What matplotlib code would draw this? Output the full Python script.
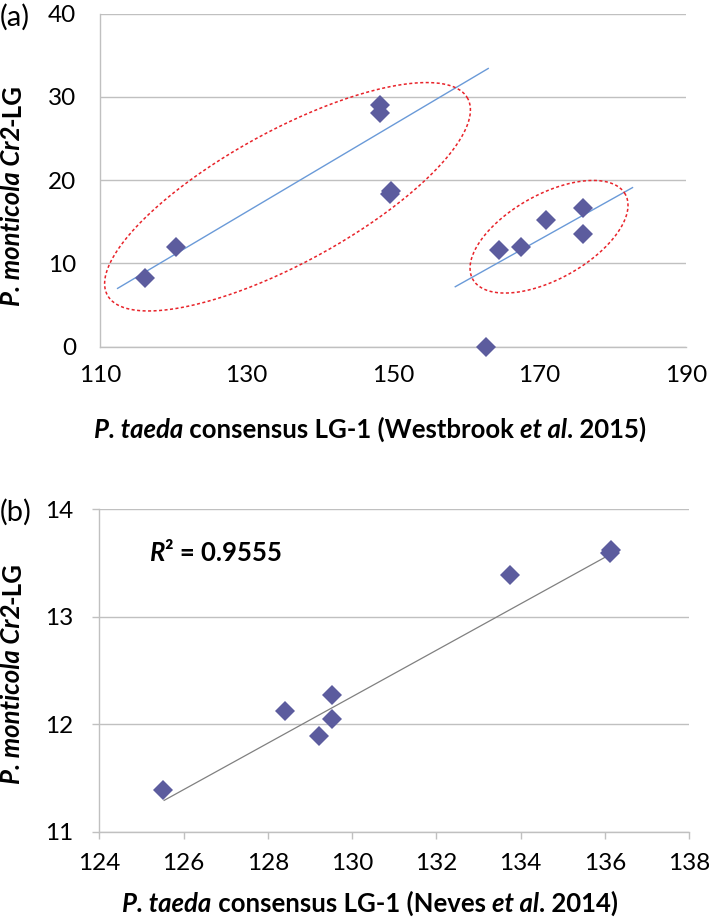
import numpy as np
import matplotlib
matplotlib.use("Agg")
import matplotlib.pyplot as plt

plt.rcParams['font.family'] = ['Lato', 'DejaVu Sans']

W, H = 709, 922

# panel (a) data
a_x = [116.2, 120.4, 148.2, 148.2, 149.6, 149.7, 162.7, 164.5, 167.5, 170.9, 175.9, 175.9]
a_y = [8.2, 12.0, 29.0, 28.0, 18.3, 18.7, 0.0, 11.55, 11.96, 15.25, 16.67, 13.56]
a_xticks = [110, 130, 150, 170, 190]
a_yticks = [0, 10, 20, 30, 40]
# trend lines as drawn in the picture (start, end)
trend_a1_x = [112.4, 163.0]
trend_a1_y = [7.0, 33.4]
trend_a2_x = [158.5, 182.7]
trend_a2_y = [7.2, 19.1]
# dashed ellipses: centre, semi-axis vectors (data units)
ell_centres = [(135.6, 18.0), (171.3, 13.2)]
ell_axis1 = [(24.6, 11.8), (10.42, 5.09)]
ell_axis2 = [(-4.29, 6.98), (-2.78, 4.45)]

# panel (b) data
b_x = [125.52, 128.40, 129.22, 129.53, 129.53, 133.75, 136.13, 136.16]
b_y = [11.39, 12.12, 11.89, 12.27, 12.05, 13.39, 13.59, 13.62]
b_xticks = [124, 126, 128, 130, 132, 134, 136, 138]
b_yticks = [11, 12, 13, 14]
trend_b_x = [125.54, 136.13]
trend_b_y = [11.29, 13.58]
r2_label = "0.9555"

xlabel_a = [("P. taeda", "bi"), (" consensus LG-1 (Westbrook ", "b"), ("et al", "bi"), (". 2015)", "b")]
xlabel_b = [("P. taeda", "bi"), (" consensus LG-1 (Neves ", "b"), ("et al", "bi"), (". 2014)", "b")]
ylabel = [("P. monticola Cr2", "bi"), ("-LG", "b")]

marker_col = '#5c5c9e'
grid_col = '#c0c0c0'
TICK_FS = 17.5
LABEL_FS = 18.5

fig = plt.figure(figsize=(W / 100, H / 100), dpi=100)
renderer = fig.canvas.get_renderer()


def props(style, size):
    return dict(fontsize=size, fontweight='bold' if 'b' in style else 'normal',
                fontstyle='italic' if 'i' in style else 'normal')


def width_of(s, style, size):
    t1 = fig.text(0, 0, '|' + s + '|', **props(style, size))
    t2 = fig.text(0, 0, '||', **props(style, size))
    w = t1.get_window_extent(renderer).width - t2.get_window_extent(renderer).width
    t1.remove()
    t2.remove()
    return w


def rich_text(x, y, parts, size, rotation=0, ha='center'):
    # x, y in image pixels (y from top); x is the centre (or left end) along the text
    ws = [width_of(s, st, size) for s, st in parts]
    total = sum(ws)
    if rotation == 0:
        pos = x - total / 2 if ha == 'center' else x
        for (s, st), w in zip(parts, ws):
            fig.text(pos / W, 1 - y / H, s, ha='left', va='baseline', **props(st, size))
            pos += w
    else:
        pos = (H - y) - total / 2
        for (s, st), w in zip(parts, ws):
            fig.text(x / W, pos / H, s, ha='left', va='baseline', rotation=90,
                     rotation_mode='anchor', **props(st, size))
            pos += w


def style_axes(ax):
    for side in ['top', 'right']:
        ax.spines[side].set_visible(False)
    for side in ['left', 'bottom']:
        ax.spines[side].set_color(grid_col)
        ax.spines[side].set_linewidth(1.0)
    ax.yaxis.grid(True, color=grid_col, linewidth=1.0)
    ax.set_axisbelow(True)


# ---- panel (a)
ax1 = fig.add_axes([100 / W, 1 - 346.7 / H, 586 / W, 333.2 / H])
style_axes(ax1)
ax1.set_xlim(110, 190)
ax1.set_ylim(0, 40)
ax1.set_xticks(a_xticks)
ax1.set_yticks(a_yticks)
ax1.tick_params(axis='both', length=0, labelsize=TICK_FS)
ax1.tick_params(axis='y', pad=17)
ax1.tick_params(axis='x', pad=13.5)
ax1.plot(trend_a1_x, trend_a1_y, color='#6a9ad8', lw=1.0, zorder=2)
ax1.plot(trend_a2_x, trend_a2_y, color='#6a9ad8', lw=1.0, zorder=2)
t = np.linspace(0, 2 * np.pi, 300)
for c, u, v in zip(ell_centres, ell_axis1, ell_axis2):
    ex = c[0] + u[0] * np.cos(t) + v[0] * np.sin(t)
    ey = c[1] + u[1] * np.cos(t) + v[1] * np.sin(t)
    ax1.plot(ex, ey, color='#e8232a', lw=1.1, ls=(0, (2, 1.6)), zorder=2, clip_on=False)
ax1.plot(a_x, a_y, 'D', color=marker_col, ms=9.8, mew=0, zorder=3, clip_on=False)

# ---- panel (b)
ax2 = fig.add_axes([99.3 / W, 1 - 831.5 / H, 589.7 / W, 322.2 / H])
style_axes(ax2)
ax2.set_xlim(124, 138)
ax2.set_ylim(11, 14)
ax2.set_xticks(b_xticks)
ax2.set_yticks(b_yticks)
ax2.tick_params(axis='both', length=5.3, width=1.0, color=grid_col, labelsize=TICK_FS)
ax2.tick_params(axis='y', pad=13.5)
ax2.tick_params(axis='x', pad=10)
ax2.plot(trend_b_x, trend_b_y, color='#808080', lw=0.9, zorder=2)
ax2.plot(b_x, b_y, 'D', color=marker_col, ms=9.8, mew=0, zorder=3)

# R^2 label
fig.canvas.draw()
px, py = ax2.transData.transform((125.2, 13.58))
rich_text(px, H - py + 7, [("R", "bi"), ("\u00b2 = " + r2_label, "b")], LABEL_FS, ha='left')

# axis labels
rich_text(370, 438, xlabel_a, LABEL_FS)
rich_text(370, 912, xlabel_b, LABEL_FS)
rich_text(20, 195, ylabel, LABEL_FS, rotation=90)
rich_text(20, 673, ylabel, LABEL_FS, rotation=90)

fig.text(0, 1 - 17 / H, "(a)", fontsize=21, ha='left', va='center')
fig.text(0, 1 - 512 / H, "(b)", fontsize=21, ha='left', va='center')

fig.savefig("out.png", dpi=100)
